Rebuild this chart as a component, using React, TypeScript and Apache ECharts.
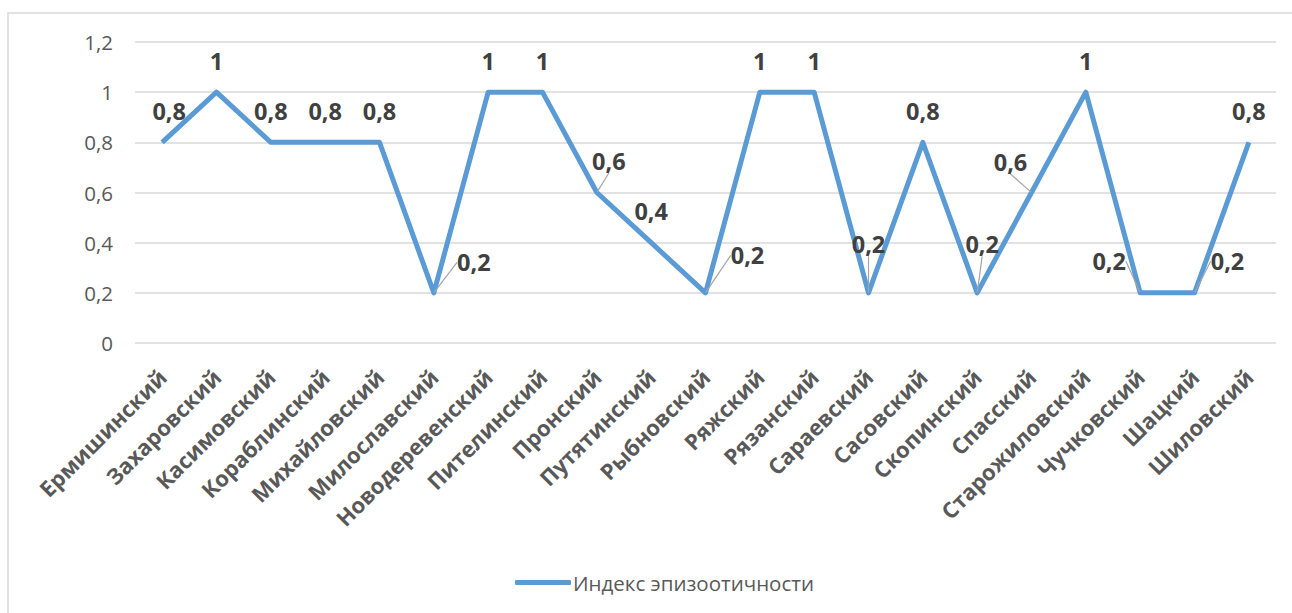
import React, { useEffect, useRef } from "react";
import * as echarts from "echarts";

const categories = [
  "Ермишинский", "Захаровский", "Касимовский", "Кораблинский", "Михайловский",
  "Милославский", "Новодеревенский", "Пителинский", "Пронский", "Путятинский",
  "Рыбновский", "Ряжский", "Рязанский", "Сараевский", "Сасовский",
  "Скопинский", "Спасский", "Старожиловский", "Чучковский", "Шацкий", "Шиловский",
];
const values = [0.8, 1, 0.8, 0.8, 0.8, 0.2, 1, 1, 0.6, 0.4, 0.2, 1, 1, 0.2, 0.8, 0.2, 0.6, 1, 0.2, 0.2, 0.8];
const seriesName = "Индекс эпизоотичности";
// label nudges (dx, dy) relative to default "top" placement, and which have leader lines
const labelShift: Record<number, [number, number]> = {
  0: [7, 0], 5: [40, 1], 8: [12, 0], 10: [42, -6], 13: [0, -17],
  15: [5, -17], 16: [-21, 1], 18: [-31, 0], 19: [33, 0],
};
const leaders = [5, 8, 10, 13, 15, 16, 18, 19];

const fmt = (v: number) => String(v).replace(".", ",");

export default function App() {
  const ref = useRef<HTMLDivElement>(null);
  useEffect(() => {
    if (!ref.current) return;
    const chart = echarts.init(ref.current, null, { renderer: "svg" });
    const font = "'Open Sans', sans-serif";
    chart.setOption({
      animation: false,
      backgroundColor: "#ffffff",
      graphic: [
        {
          type: "rect",
          shape: { x: 8, y: 13, width: 1320, height: 700 },
          style: { fill: "none", stroke: "#d9d9d9", lineWidth: 1.5 },
          silent: true,
          z: -1,
        },
      ],
      grid: { left: 135, right: 16, top: 42, bottom: 270, containLabel: false },
      legend: {
        left: 510,
        top: 567,
        icon: "roundRect",
        itemWidth: 56,
        itemHeight: 5,
        itemGap: 4,
        textStyle: { fontFamily: font, fontSize: 20.5, color: "#595959", padding: [0, 0, 0, -3] },
        data: [{ name: seriesName, itemStyle: { color: "#5B9BD5" } }],
      },
      xAxis: {
        type: "category",
        data: categories,
        boundaryGap: true,
        axisLine: { show: false },
        axisTick: { show: false },
        axisLabel: {
          rotate: 45,
          interval: 0,
          margin: 30,
          fontFamily: font,
          fontWeight: "bold",
          fontSize: 22,
          color: "#595959",
        },
      },
      yAxis: {
        type: "value",
        min: 0,
        max: 1.2,
        interval: 0.2,
        axisLine: { show: false },
        axisTick: { show: false },
        splitLine: { lineStyle: { color: "#d9d9d9", width: 1.5 } },
        axisLabel: {
          margin: 22,
          fontFamily: font,
          fontSize: 20.5,
          color: "#595959",
          formatter: (v: number) => fmt(Math.round(v * 10) / 10),
        },
      },
      series: [
        {
          name: seriesName,
          type: "line",
          data: values.map((v, i) => ({
            value: v,
            labelLine: { show: leaders.includes(i) },
          })),
          symbol: "circle",
          symbolSize: 1,
          showSymbol: true,
          itemStyle: { color: "#5B9BD5" },
          lineStyle: { color: "#5B9BD5", width: 5, join: "round" },
          label: {
            show: true,
            position: "top",
            distance: 19,
            fontFamily: font,
            fontWeight: "bold",
            fontSize: 23.5,
            color: "#404040",
            formatter: (p: any) => fmt(p.value),
          },
          labelLine: { show: false, lineStyle: { color: "#a6a6a6", width: 1.2 } },
          labelLayout: (p: any) => {
            const s = labelShift[p.dataIndex];
            return s ? { dx: s[0], dy: s[1] } : {};
          },
        },
      ],
    });
    return () => chart.dispose();
  }, []);
  return (
    <div
      ref={ref}
      style={{ position: "absolute", left: 0, top: 0, width: 1292, height: 613 }}
    />
  );
}
